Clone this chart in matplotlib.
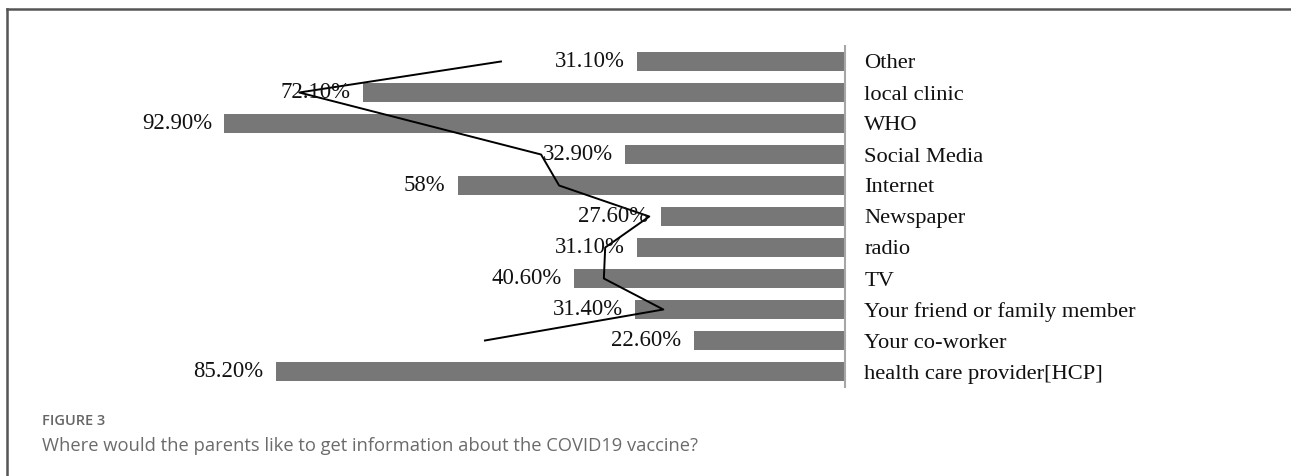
import matplotlib
matplotlib.use("Agg")
import matplotlib.pyplot as plt
from matplotlib.lines import Line2D

# data, top row first
categories = ["Other", "local clinic", "WHO", "Social Media", "Internet", "Newspaper",
              "radio", "TV", "Your friend or family member", "Your co-worker",
              "health care provider[HCP]"]
values = [31.1, 72.1, 92.9, 32.9, 58.0, 27.6, 31.1, 40.6, 31.4, 22.6, 85.2]
value_labels = ["31.10%", "72.10%", "92.90%", "32.90%", "58%", "27.60%",
                "31.10%", "40.60%", "31.40%", "22.60%", "85.20%"]
# unlabeled black line drawn over the bars (no value for the last row)
line_values = [51.5, 81.7, 63.6, 45.5, 42.8, 29.3, 35.9, 36.1, 27.2, 53.9]

W, H = 1291, 476
fig = plt.figure(figsize=(W / 100, H / 100), dpi=100)

# axes: right edge (value 0) at x=845px, 6.68 px per %
left_px, right_px = 150, 845
top_px, bot_px = 46, 387
ax = fig.add_axes([left_px / W, 1 - bot_px / H, (right_px - left_px) / W, (bot_px - top_px) / H])
xmax = (right_px - left_px) / 6.68

y = list(range(len(categories)))
ax.barh(y, values, height=0.6, color="#777777", zorder=2)
ax.plot(line_values, y[:len(line_values)], color="black", lw=1.4, zorder=3)

for yi, v, lab in zip(y, values, value_labels):
    ax.annotate(lab, (v, yi), xytext=(-9, 0), textcoords="offset points",
                ha="right", va="center", fontsize=16.4, family="Liberation Serif",
                color="#111111", zorder=4)

ax.set_xlim(xmax, 0)
ax.set_ylim(len(categories) - 0.5, -0.5)
ax.set_xticks([])
ax.yaxis.tick_right()
ax.set_yticks(y)
ax.set_yticklabels(categories, fontsize=16.2, family="Liberation Serif", color="#111111")
ax.tick_params(axis="y", length=0, pad=14)
for s in ["top", "bottom", "left"]:
    ax.spines[s].set_visible(False)
ax.spines["right"].set_color("#a6a6a6")
ax.spines["right"].set_linewidth(1.5)
ax.patch.set_alpha(0)

# frame around the figure panel
fig.add_artist(Line2D([7 / W, 1], [1 - 9 / H, 1 - 9 / H], color="#555555", lw=1.8))
fig.add_artist(Line2D([7 / W, 7 / W], [1 - 9 / H, 0], color="#555555", lw=1.8))

fig.text(42 / W, 1 - 421 / H, "FIGURE 3", fontsize=10.5, fontweight="semibold",
         family="Open Sans", color="#666666", va="center", ha="left")
fig.text(42 / W, 1 - 446 / H, "Where would the parents like to get information about the COVID19 vaccine?",
         fontsize=13.2, family="Open Sans", color="#6b6b6b", va="center", ha="left")

fig.savefig("out.png", dpi=100)
